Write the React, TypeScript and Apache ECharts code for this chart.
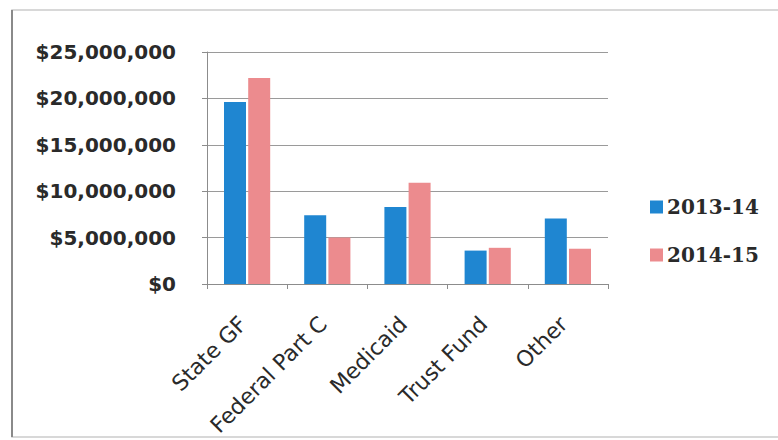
import React, { useEffect, useRef } from "react";
import * as echarts from "echarts";

const categories = ["State GF", "Federal Part C", "Medicaid", "Trust Fund", "Other"];
const series2013 = [19600000, 7400000, 8300000, 3600000, 7050000];
const series2014 = [22200000, 5000000, 10900000, 3900000, 3800000];
const seriesNames = ["2013-14", "2014-15"];
const yTicks = [0, 5000000, 10000000, 15000000, 20000000, 25000000];

const fmt = (v: number) => "$" + v.toLocaleString("en-US");

export default function App() {
  const ref = useRef<HTMLDivElement>(null);
  useEffect(() => {
    if (!ref.current) return;
    const chart = echarts.init(ref.current, null, { renderer: "svg" });
    chart.setOption({
      animation: false,
      backgroundColor: "#ffffff",
      graphic: [
        {
          type: "rect",
          shape: { x: 12, y: 10, width: 780, height: 427 },
          style: { fill: "none", stroke: "#cccccc", lineWidth: 1.5 },
          silent: true,
        },
        {
          type: "line",
          shape: { x1: 12, y1: 10, x2: 12, y2: 437 },
          style: { stroke: "#8a8a8a", lineWidth: 2 },
          silent: true,
        },
      ],
      legend: {
        orient: "vertical",
        left: 645,
        top: 192,
        itemWidth: 13,
        itemHeight: 13,
        itemGap: 28,
        icon: "rect",
        data: seriesNames,
        textStyle: {
          fontFamily: "DejaVu Serif",
          fontWeight: "bold",
          fontSize: 20,
          color: "#2a2a2a",
          padding: [0, 0, 0, -1],
        },
      },
      grid: { left: 207, top: 52, width: 401, height: 232, containLabel: false },
      xAxis: {
        type: "category",
        data: categories,
        axisLine: { lineStyle: { color: "#8c8c8c", width: 1 } },
        axisTick: { show: true, inside: false, length: 5, lineStyle: { color: "#8c8c8c" } },
        axisLabel: {
          rotate: 45,
          interval: 0,
          margin: 32,
          fontFamily: "DejaVu Sans",
          fontSize: 22,
          color: "#2a2a2a",
          padding: [0, 6, 0, 0],
        },
      },
      yAxis: {
        type: "value",
        min: 0,
        max: 25000000,
        interval: 5000000,
        axisLine: { show: true, lineStyle: { color: "#8c8c8c", width: 1 } },
        axisTick: { show: true, length: 5, lineStyle: { color: "#8c8c8c" } },
        splitLine: { lineStyle: { color: "#9a9a9a", width: 1.2 } },
        axisLabel: {
          margin: 31,
          fontFamily: "DejaVu Sans",
          fontWeight: "bold",
          fontSize: 20,
          color: "#2a2a2a",
          formatter: (v: number) => (yTicks.includes(v) ? fmt(v) : ""),
        },
      },
      series: [
        {
          name: seriesNames[0],
          type: "bar",
          data: series2013,
          barWidth: 22,
          barGap: "10%",
          itemStyle: { color: "#1f86d1" },
        },
        {
          name: seriesNames[1],
          type: "bar",
          data: series2014,
          barWidth: 22,
          itemStyle: { color: "#ec8b8e" },
        },
      ],
    });
    return () => chart.dispose();
  }, []);
  return (
    <div
      ref={ref}
      style={{ position: "fixed", left: 0, top: 0, width: 778, height: 440 }}
    />
  );
}
